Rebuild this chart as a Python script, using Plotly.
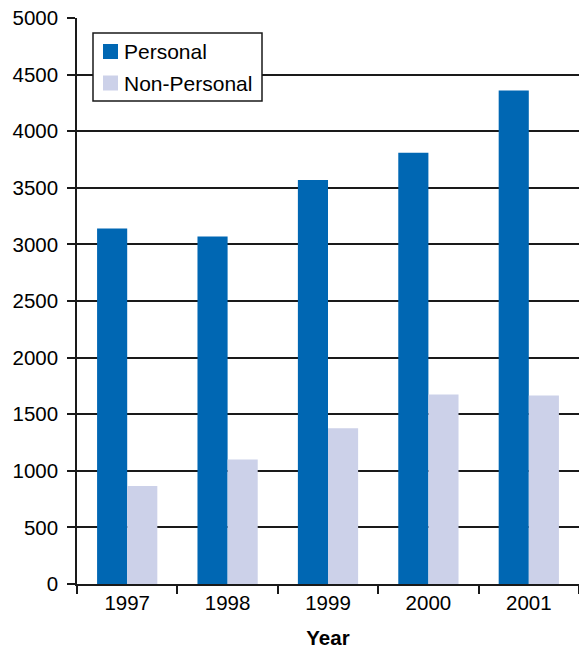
import plotly.graph_objects as go

years = ["1997", "1998", "1999", "2000", "2001"]
personal = [3140, 3070, 3570, 3810, 4360]
non_personal = [865, 1100, 1375, 1675, 1665]
y_ticks = [0, 500, 1000, 1500, 2000, 2500, 3000, 3500, 4000, 4500, 5000]
series_names = ["Personal", "Non-Personal"]
series_colors = ["#0067B3", "#CCD1E9"]

FONT = "Liberation Sans, Arial, Helvetica, sans-serif"
AX = "#1a1a1a"

W, H = 579, 649
ML, MR, MT, MB = 77, 0, 18, 65
PW = W - ML - MR
PH = H - MT - MB


def px_x(p):
    return (p - ML) / PW


def px_y(p):
    return (MT + PH - p) / PH


fig = go.Figure()
for name, vals, col in zip(series_names, [personal, non_personal], series_colors):
    fig.add_trace(go.Bar(name=name, x=years, y=vals, marker_color=col,
                         marker_line_width=0, showlegend=False))

# legend drawn as shapes + text
shapes = [dict(type="rect", xref="paper", yref="paper",
               x0=px_x(93), x1=px_x(262), y0=px_y(101), y1=px_y(33),
               line=dict(color=AX, width=1.5), fillcolor="white", layer="above")]
annotations = []
rows = [(44, 59), (75.5, 90.5)]
for (t, b), name, col in zip(rows, series_names, series_colors):
    shapes.append(dict(type="rect", xref="paper", yref="paper",
                       x0=px_x(103), x1=px_x(118), y0=px_y(b), y1=px_y(t),
                       line=dict(width=0), fillcolor=col, layer="above"))
    annotations.append(dict(xref="paper", yref="paper", x=px_x(122), y=px_y((t + b) / 2),
                            xanchor="left", yanchor="middle", showarrow=False,
                            text=name, font=dict(size=21, color="black")))

fig.update_layout(
    width=W, height=H,
    margin=dict(l=ML, r=MR, t=MT, b=MB),
    paper_bgcolor="white", plot_bgcolor="white",
    barmode="group", bargap=0.4, bargroupgap=0,
    font=dict(family=FONT, size=20.5, color="black"),
    showlegend=False,
    shapes=shapes, annotations=annotations,
    xaxis=dict(
        type="category", range=[-0.5, 4.5],
        showline=True, linecolor=AX, linewidth=1.5,
        ticks="outside", ticklen=8, tickwidth=1.5, tickcolor=AX,
        tickson="boundaries", showgrid=False,
        tickfont=dict(size=20.5), ticklabelstandoff=0,
        title=dict(text="<b>Year</b>", font=dict(size=20.5), standoff=18),
    ),
    yaxis=dict(
        range=[0, 5000], tickvals=y_ticks,
        showline=True, linecolor=AX, linewidth=1.5,
        ticks="outside", ticklen=8, tickwidth=1.5, tickcolor=AX,
        showgrid=True, gridcolor=AX, gridwidth=1.5,
        zeroline=False, tickfont=dict(size=20.5),
        ticklabelstandoff=5, ticklabeloverflow="allow",
    ),
)

fig.write_html(
    "out.html",
    config={"displayModeBar": False},
    post_script="document.body.style.margin='0';document.body.style.overflow='hidden';",
)
